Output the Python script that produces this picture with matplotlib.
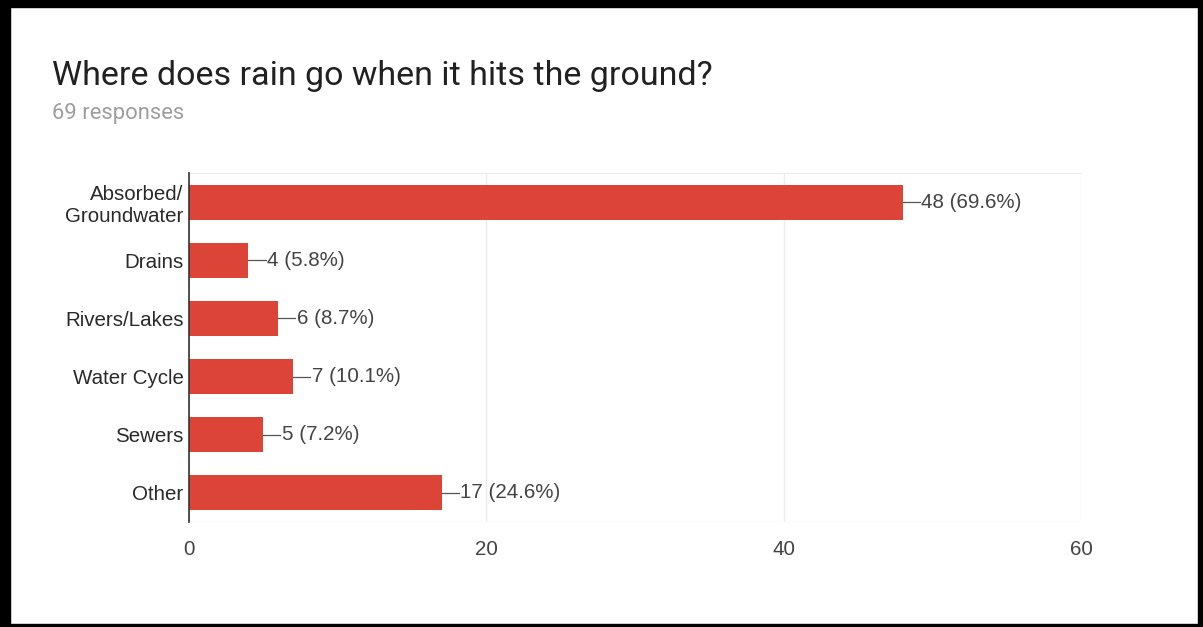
import matplotlib
matplotlib.use("Agg")
import matplotlib.pyplot as plt
from matplotlib.patches import Rectangle

# survey answers
categories = ["Absorbed/\nGroundwater", "Drains", "Rivers/Lakes", "Water Cycle", "Sewers", "Other"]
counts = [48, 4, 6, 7, 5, 17]
percents = [69.6, 5.8, 8.7, 10.1, 7.2, 24.6]
xticks = [0, 20, 40, 60]

title = "Where does rain go when it hits the ground?"
subtitle = "69 responses"

fig = plt.figure(figsize=(12.03, 6.27), dpi=100)
fig.patch.set_facecolor("white")

# plot area in figure pixels: x 189..1081, y 173..522
W, H = 1203, 627
ax = fig.add_axes([189 / W, 1 - 522 / H, (1081 - 189) / W, (522 - 173) / H])

ypos = list(range(len(categories)))
ax.barh(ypos, counts, height=0.6, color="#db4437", zorder=3)

ax.set_xlim(0, 60)
ax.set_ylim(len(categories) - 0.5, -0.5)
ax.set_xticks(xticks)
ax.set_xticklabels([str(t) for t in xticks], fontsize=14.8, color="#444444",
                   family="Liberation Sans")
ax.set_yticks(ypos)
ax.set_yticklabels(categories, fontsize=14.8, color="#2a2a2a", family="Liberation Sans",
                   linespacing=1.22)
ax.tick_params(axis="both", length=0)
ax.tick_params(axis="x", pad=13)
ax.tick_params(axis="y", pad=4)

ax.grid(axis="x", color="#ebebeb", linewidth=1, zorder=0)
for side in ["right", "bottom"]:
    ax.spines[side].set_visible(False)
ax.spines["top"].set_color("#ebebeb")
ax.spines["left"].set_color("#333333")
ax.spines["left"].set_linewidth(1.2)
ax.spines["left"].set_zorder(4)
ax.axhline(len(categories) - 0.5, color="#ebebeb", linewidth=1, zorder=0)

# data labels with short leader lines
for y, c, p in zip(ypos, counts, percents):
    ax.plot([c, c + 1.15], [y, y], color="#555555", linewidth=0.9, zorder=4,
            clip_on=False)
    ax.text(c + 1.25, y, f"{c} ({p}%)", va="center", ha="left", fontsize=14.8,
            color="#444444", family="Liberation Sans")

fig.text(52 / W, 1 - 76 / H, title, fontsize=24.5, color="#212121",
         family="Roboto", va="center", ha="left")
fig.text(52 / W, 1 - 113 / H, subtitle, fontsize=15.8, color="#9e9e9e",
         family="Roboto", va="center", ha="left")

# black frame around the screenshot
fig.patches.append(Rectangle((0, 0), 10 / W, 1, transform=fig.transFigure,
                             color="black"))
fig.patches.append(Rectangle((0, 1 - 7 / H), 1, 7 / H, transform=fig.transFigure,
                             color="black"))
fig.patches.append(Rectangle((1 - 5 / W, 0), 5 / W, 1, transform=fig.transFigure,
                             color="black"))
fig.patches.append(Rectangle((0, 0), 1, 3 / H, transform=fig.transFigure,
                             color="black"))

fig.savefig("out.png", dpi=100)
